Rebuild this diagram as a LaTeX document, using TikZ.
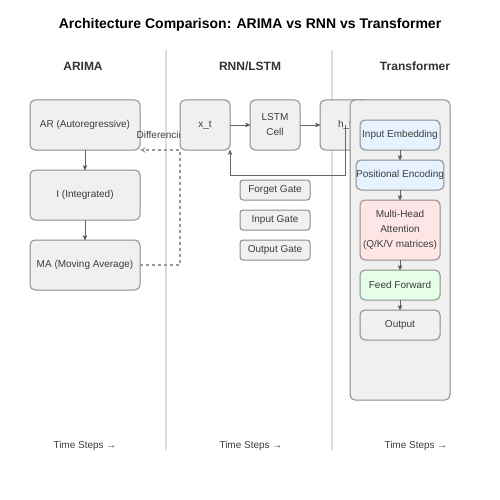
\documentclass[tikz,border=0pt]{standalone}
\usepackage{fontspec}
\setmainfont{Liberation Sans}
\usetikzlibrary{arrows,positioning}
\definecolor{boxfill}{HTML}{F0F0F0}
\definecolor{boxline}{HTML}{8C8C8C}
\definecolor{linegray}{HTML}{666666}
\definecolor{dashgray}{HTML}{999999}
\definecolor{textgray}{HTML}{3C3C3C}
\definecolor{headgray}{HTML}{333333}
\definecolor{divider}{HTML}{DDDDDD}
\definecolor{embfill}{HTML}{E6F2FF}
\definecolor{attfill}{HTML}{FFE6E6}
\definecolor{fffill}{HTML}{E6FFE6}

\begin{document}
\begin{tikzpicture}[x=1pt,y=-1pt,->,>=stealth',semithick,
                    font=\fontsize{10}{15}\selectfont,node distance=20pt]
    \tikzstyle{block}=[draw=boxline,fill=boxfill,rounded corners=5pt,line width=1pt,
                       minimum width=110pt,minimum height=50pt,inner sep=0pt,
                       outer sep=0pt,text=textgray,align=center]
    \tikzstyle{cell}=[block,minimum width=50pt]
    \tikzstyle{gate}=[block,minimum width=70pt,minimum height=20pt,rounded corners=3pt]
    \tikzstyle{layer}=[block,minimum width=80pt,minimum height=30pt]
    \tikzstyle{header}=[font=\fontsize{12}{14}\selectfont\bfseries,text=headgray]
    \tikzstyle{steps}=[font=\fontsize{10}{12}\selectfont,text=textgray]
    \tikzstyle{flow}=[draw=linegray,line width=0.7pt]

    \useasboundingbox[fill=white] (0,0) rectangle (500,500);

    % title and columns
    \node[font=\fontsize{14}{16}\selectfont\bfseries] (title) at (250,25)
        {Architecture Comparison: ARIMA vs RNN vs Transformer};
    \node[header] (hArima) at (83,66)  {ARIMA};
    \node[header] (hRnn)   at (250,66) {RNN/LSTM};
    \node[header] (hTrans) at (415,66) {Transformer};
    \draw[-,divider,line width=2pt] (166,50) -- (166,450);
    \draw[-,divider,line width=2pt] (332,50) -- (332,450);

    % ARIMA
    \node[block] (AR)                at (85,125) {AR (Autoregressive)};
    \node[block] (I)  [below=of AR]              {I (Integrated)};
    \node[block] (MA) [below=of I]               {MA (Moving Average)};
    \path[flow] (AR) edge (I)
                (I)  edge (MA);

    % RNN / LSTM
    \node[text=textgray,anchor=west] (diff) at (133,136) {Differencing};
    \node[cell] (xt)   at (205,125)   {x\_t};
    \node[cell] (lstm) [right=of xt]  {LSTM\\Cell};
    \node[cell] (ht)   [right=of lstm] {h\_t};
    \path[flow] (xt)   edge (lstm)
                (lstm) edge (ht);
    \draw[flow] (ht.center) -- (345,175) -| (xt.south east);
    \node[gate] (forget) at (275,190)        {Forget Gate};
    \node[gate] (input)  [below=10pt of forget] {Input Gate};
    \node[gate] (output) [below=10pt of input]  {Output Gate};
    \draw[dashgray,line width=1.5pt,dash pattern=on 3pt off 3pt,>=stealth]
        (MA.east) -- (180,265) -- (180,150) -- (AR.south east);

    % Transformer
    \node[block,minimum width=100pt,minimum height=300pt] (stack) at (400,250) {};
    \node[layer,fill=embfill] (embed) at (400,135)         {Input Embedding};
    \node[layer,fill=embfill] (pos)   [below=10pt of embed] {Positional Encoding};
    \node[layer,fill=attfill,minimum height=60pt] (attn) [below=10pt of pos]
        {Multi-Head\\Attention\\(Q/K/V matrices)};
    \node[layer,fill=fffill]  (ffn)   [below=10pt of attn]  {Feed Forward};
    \node[layer]              (out)   [below=10pt of ffn]   {Output};
    \path[flow] (embed) edge (pos)
                (pos)   edge (attn)
                (attn)  edge (ffn)
                (ffn)   edge (out);

    % time axis
    \node[steps] (tArima) at (85,446)  {Time Steps →};
    \node[steps] (tRnn)   at (251,446) {Time Steps →};
    \node[steps] (tTrans) at (416,446) {Time Steps →};
\end{tikzpicture}
\end{document}
